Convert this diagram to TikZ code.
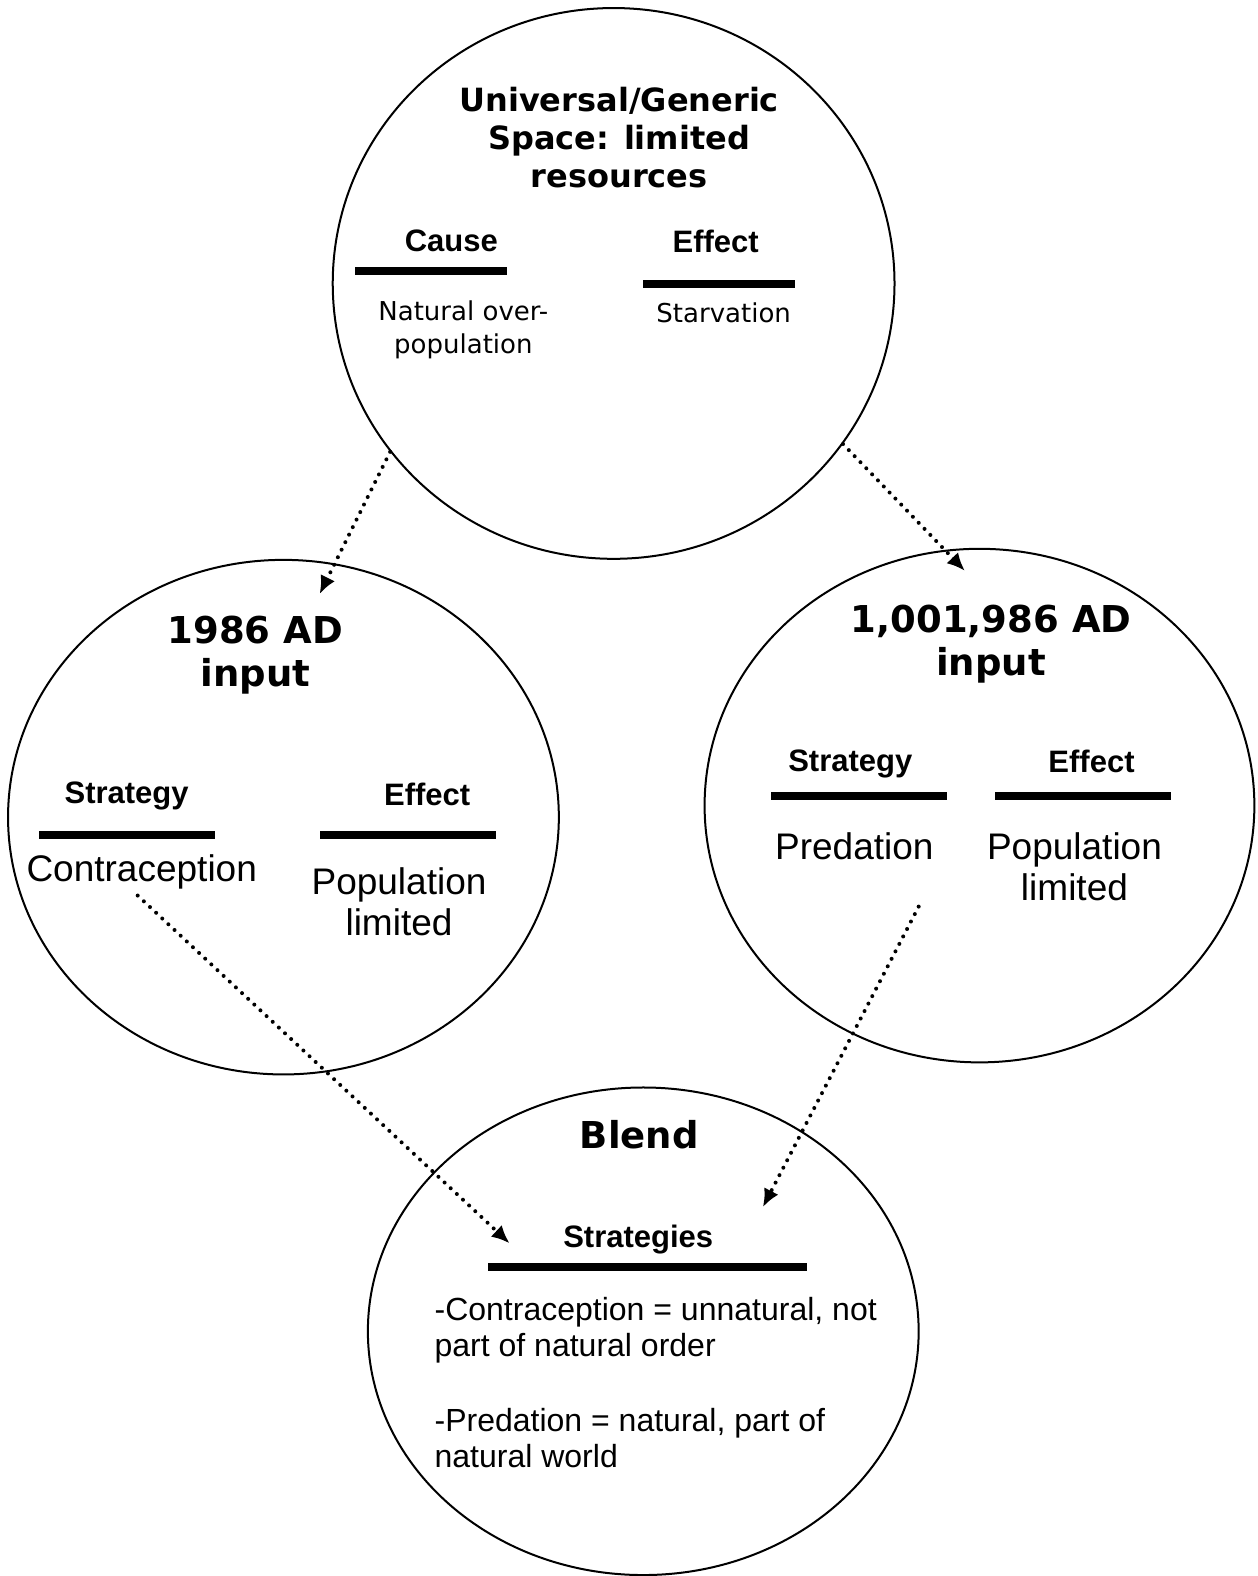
\documentclass[tikz,border=0pt]{standalone}
\usepackage{fontspec}
\setmainfont{Liberation Sans}
\newfontfamily\verdana{DejaVu Sans}
\usetikzlibrary{arrows.meta, shapes.geometric}

\begin{document}
\begin{tikzpicture}[
  x=0.5024pt, y=-0.5024pt,
  space/.style={draw, line width=1pt, ellipse, inner sep=0pt},
  title/.style={font=\verdana\bfseries\fontsize{18.5}{21.5}\selectfont,
                align=center, inner sep=0pt},
  gentitle/.style={font=\verdana\bfseries\fontsize{16}{19}\selectfont,
                align=center, inner sep=0pt},
  heading/.style={font=\bfseries\fontsize{15.5}{18}\selectfont, inner sep=0pt},
  entry/.style={font=\fontsize{18.5}{20.5}\selectfont, align=center, inner sep=0pt},
  note/.style={font=\verdana\fontsize{13}{16.5}\selectfont, align=center, inner sep=0pt},
  bar/.style={fill=black, inner sep=0pt, minimum height=4pt},
  map/.style={-{Latex[length=9pt, width=8pt]}, line width=2pt,
              line cap=round, dash pattern=on 0pt off 4.2pt}
]
\useasboundingbox (0,0) rectangle (1251,1568);

% ── Generic space ─────────────────────────────────────────
\node[space, minimum width=280.8pt, minimum height=275.3pt] (generic) at (610.5,282) {};
\node[gentitle] (gentxt) at (616,137) {Universal/Generic\\Space: limited\\resources};
\node[heading]  (gcause)  at (449,240) {Cause};
\node[heading]  (geffect) at (712,240) {Effect};
\node[bar, minimum width=75.9pt] (gcbar) at (428.5,270) {};
\node[bar, minimum width=75.9pt] (gebar) at (715.5,283) {};
\node[note]     (gover)   at (461,328) {Natural over-\\population};
\node[note]     (gstarve) at (720,311) {Starvation};

% ── Input 1: 1986 AD ──────────────────────────────────────
\node[space, minimum width=275.3pt, minimum height=257.2pt] (early) at (282,813) {};
\node[title]   (etxt)    at (254,652) {1986 AD\\input};
\node[heading] (estrat)  at (126,792) {Strategy};
\node[heading] (eeffect) at (425,790) {Effect};
\node[bar, minimum width=87.9pt] (esbar) at (126.5,831) {};
\node[bar, minimum width=87.9pt] (eebar) at (405.5,831) {};
\node[entry]   (contra)  at (141,867) {Contraception};
\node[entry]   (elimit)  at (397,897) {Population\\limited};

% ── Input 2: 1,001,986 AD ─────────────────────────────────
\node[space, minimum width=274.8pt, minimum height=256.7pt] (late) at (974.5,801.5) {};
\node[title]   (ltxt)    at (986,641) {1,001,986 AD\\input};
\node[heading] (lstrat)  at (846,760) {Strategy};
\node[heading] (leffect) at (1086,758) {Effect};
\node[bar, minimum width=87.9pt] (lsbar) at (854.5,792) {};
\node[bar, minimum width=87.9pt] (lebar) at (1077.5,792) {};
\node[entry]   (pred)    at (850,842) {Predation};
\node[entry]   (llimit)  at (1069,862) {Population\\limited};

% ── Blend ─────────────────────────────────────────────────
\node[space, minimum width=275.3pt, minimum height=243.7pt] (blend) at (640,1324.5) {};
\node[title]   (btxt)   at (636,1129) {Blend};
\node[heading] (bstrat) at (635,1233) {Strategies};
\node[bar, minimum width=159.3pt] (bbar) at (644.5,1261) {};
\node[font=\fontsize{16}{18}\selectfont, align=left, inner sep=0pt, anchor=north west]
      (bbody) at (432,1290) {-Contraception = unnatural, not\\part of natural order\\[19.5pt]
                             -Predation = natural, part of\\natural world};

% ── Mappings ──────────────────────────────────────────────
\coordinate (etip)   at (318,591);
\coordinate (ltip)   at (960,568);
\coordinate (cstart) at (137,891);
\coordinate (ctip)   at (507,1237);
\coordinate (pstart) at (914,902);
\coordinate (ptip)   at (759,1201);

\draw[map] (generic.217) -- (etip);
\draw[map] (generic.-35) -- (ltip);
\draw[map] (cstart) -- (ctip);
\draw[map] (pstart) -- (ptip);

\end{tikzpicture}
\end{document}
